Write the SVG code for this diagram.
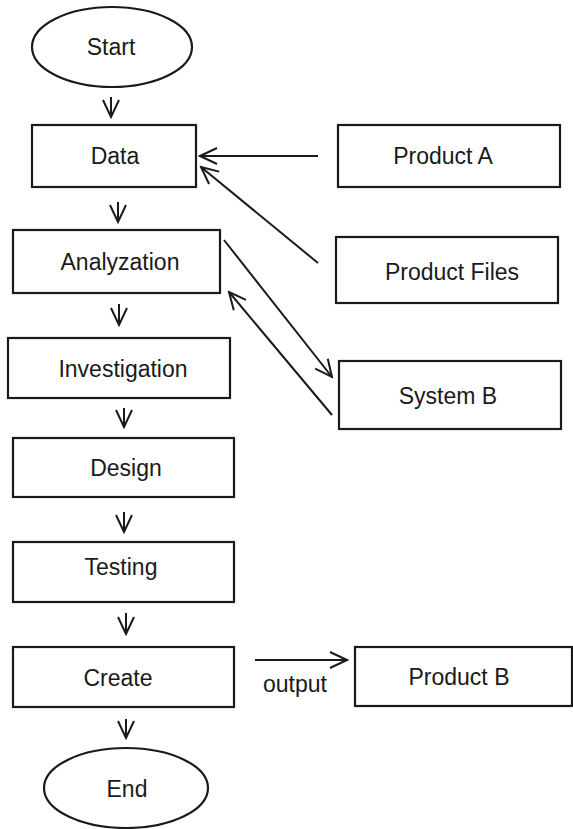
<svg xmlns="http://www.w3.org/2000/svg" width="573" height="829" viewBox="0 0 573 829">
<style>
.box{fill:#fff;stroke:#1a1a1a;stroke-width:2.2}
.lbl{font-family:"Liberation Sans",Arial,sans-serif;font-size:23px;fill:#1a1a1a;text-anchor:middle}
.conn{stroke:#1a1a1a;stroke-width:2;fill:none}
</style>
<defs>
<marker id="arr" markerUnits="userSpaceOnUse" viewBox="0 0 20 20" markerWidth="20" markerHeight="20" refX="18" refY="10" orient="auto">
<path d="M1,2 L18,10 L1,18" fill="none" stroke="#1a1a1a" stroke-width="2"/>
</marker>
</defs>
<rect width="573" height="829" fill="#fff"/>
<g id="connectors">
<line class="conn" x1="111" y1="97" x2="111" y2="117" marker-end="url(#arr)"/>
<line class="conn" x1="118" y1="202" x2="118" y2="222" marker-end="url(#arr)"/>
<line class="conn" x1="119" y1="304" x2="119" y2="325" marker-end="url(#arr)"/>
<line class="conn" x1="124" y1="408" x2="124" y2="427" marker-end="url(#arr)"/>
<line class="conn" x1="124" y1="512" x2="124" y2="532" marker-end="url(#arr)"/>
<line class="conn" x1="126" y1="613" x2="126" y2="634" marker-end="url(#arr)"/>
<line class="conn" x1="126" y1="719" x2="126" y2="738" marker-end="url(#arr)"/>
<line class="conn" x1="318" y1="156" x2="200" y2="156" marker-end="url(#arr)"/>
<line class="conn" x1="318" y1="263" x2="201" y2="167" marker-end="url(#arr)"/>
<line class="conn" x1="224" y1="240" x2="332" y2="377" marker-end="url(#arr)"/>
<line class="conn" x1="332" y1="415" x2="229" y2="292" marker-end="url(#arr)"/>
<line class="conn" x1="255" y1="660" x2="347" y2="660" marker-end="url(#arr)"/>
<text class="lbl" x="295" y="692">output</text>
</g>
<g id="start"><ellipse class="box" cx="112" cy="47" rx="80" ry="40"/><text class="lbl" x="111" y="55">Start</text></g>
<g id="data"><rect class="box" x="32" y="125" width="164" height="62"/><text class="lbl" x="115" y="164">Data</text></g>
<g id="productA"><rect class="box" x="338" y="125" width="222" height="62"/><text class="lbl" x="443" y="164">Product A</text></g>
<g id="analyzation"><rect class="box" x="13" y="230" width="207" height="63"/><text class="lbl" x="120" y="270">Analyzation</text></g>
<g id="productFiles"><rect class="box" x="336" y="237" width="222" height="66"/><text class="lbl" x="452" y="280">Product Files</text></g>
<g id="investigation"><rect class="box" x="8" y="338" width="222" height="60"/><text class="lbl" x="123" y="377">Investigation</text></g>
<g id="systemB"><rect class="box" x="339" y="361" width="222" height="68"/><text class="lbl" x="448" y="404">System B</text></g>
<g id="design"><rect class="box" x="13" y="438" width="221" height="59"/><text class="lbl" x="126" y="476">Design</text></g>
<g id="testing"><rect class="box" x="13" y="542" width="221" height="60"/><text class="lbl" x="121" y="575">Testing</text></g>
<g id="create"><rect class="box" x="13" y="647" width="221" height="60"/><text class="lbl" x="118" y="686">Create</text></g>
<g id="productB"><rect class="box" x="355" y="647" width="217" height="59"/><text class="lbl" x="459" y="685">Product B</text></g>
<g id="end"><ellipse class="box" cx="126" cy="788" rx="82" ry="40"/><text class="lbl" x="127" y="797">End</text></g>
</svg>
